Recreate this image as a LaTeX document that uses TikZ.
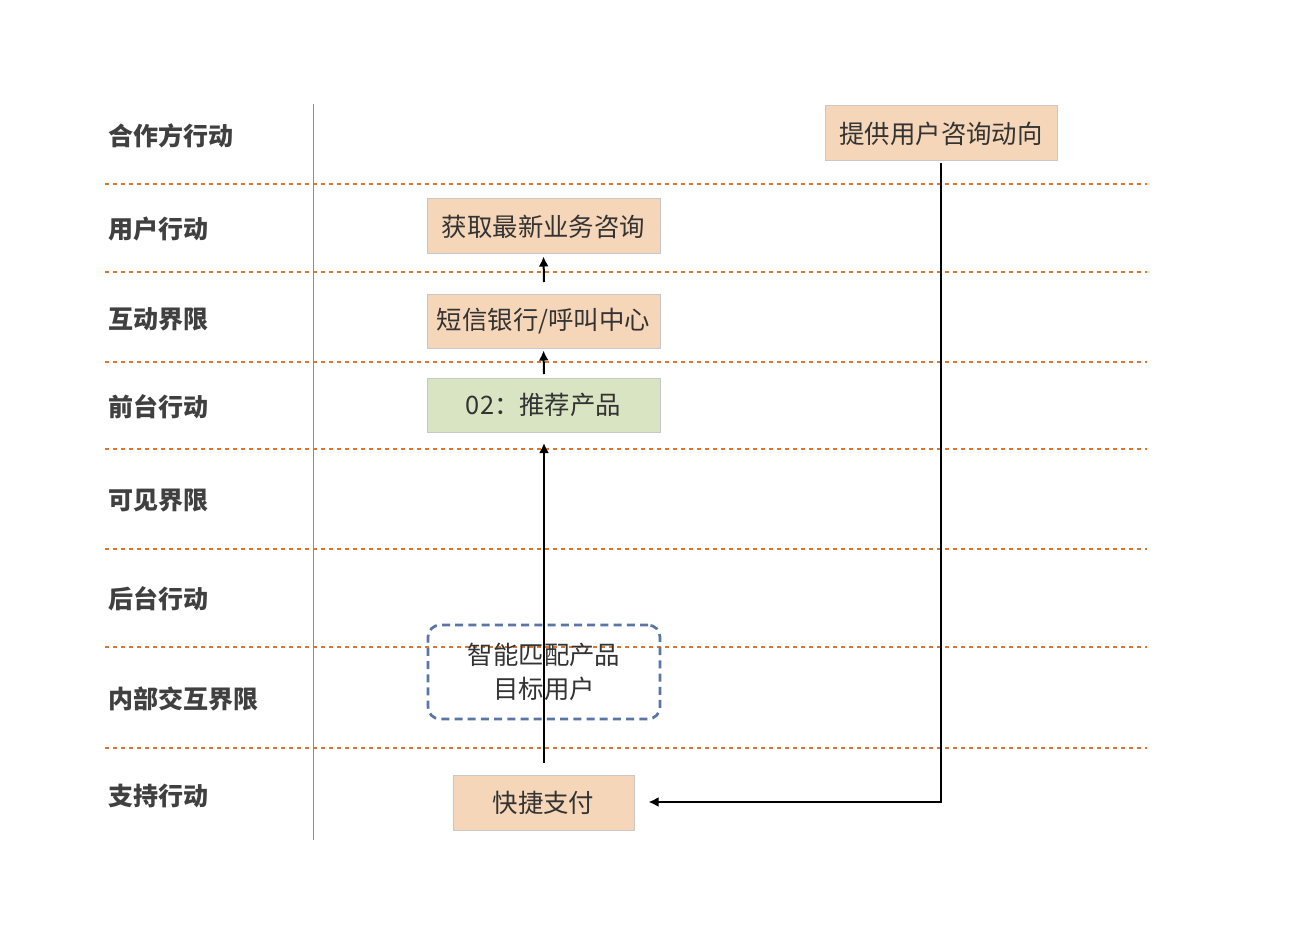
\documentclass[tikz,border=0pt]{standalone}
\usepackage{fontspec}
\newfontfamily\cjk{Noto Sans CJK SC}
\usetikzlibrary{arrows.meta}
\definecolor{laneline}{HTML}{D9772F}
\definecolor{boxfill}{HTML}{F6D6B8}
\definecolor{greenfill}{HTML}{D9E4C2}
\definecolor{boxedge}{HTML}{C8C8C8}
\definecolor{bluedash}{HTML}{5A75A6}
\definecolor{labeltext}{HTML}{404040}
\definecolor{boxtext}{HTML}{333333}
\tikzset{
  lanesep/.style={laneline, line width=0.75pt, dash pattern=on 2pt off 2pt},
  lanelabel/.style={anchor=west, inner sep=0pt, font=\cjk\bfseries\fontsize{12.5}{14}\selectfont, text=labeltext},
  actbox/.style={draw=boxedge, line width=0.5pt, fill=boxfill, inner sep=0pt, font=\cjk\fontsize{12.7}{14}\selectfont, text=boxtext},
  greenbox/.style={actbox, fill=greenfill},
  dashbox/.style={draw=bluedash, line width=1.35pt, dash pattern=on 4pt off 2.6pt, rounded corners=6pt, inner sep=0pt, align=center, font=\cjk\fontsize{12.7}{17}\selectfont, text=boxtext},
  flow/.style={black, line width=1pt, -{Latex[length=5pt,width=5pt]}}
}
\begin{document}
\begin{tikzpicture}[x=0.5pt,y=-0.5pt]
\useasboundingbox (0,0) rectangle (1306,936);
% lane separators
\foreach \yy in {184,272,362,449,549,647,748}
  \draw[lanesep] (105,\yy) -- (1147,\yy);
\draw[laneline, line width=0.5pt] (313,104) -- (313,840);
% lane labels
\node[lanelabel] (l1) at (108,136) {合作方行动};
\node[lanelabel] (l2) at (108,229) {用户行动};
\node[lanelabel] (l3) at (108,319) {互动界限};
\node[lanelabel] (l4) at (108,407) {前台行动};
\node[lanelabel] (l5) at (108,500) {可见界限};
\node[lanelabel] (l6) at (108,599) {后台行动};
\node[lanelabel] (l7) at (108,699) {内部交互界限};
\node[lanelabel] (l8) at (108,796) {支持行动};
% boxes
\node[actbox, minimum width=116.5pt, minimum height=27.5pt] (get) at (543.5,226.5) {获取最新业务咨询};
\node[actbox, minimum width=116.5pt, minimum height=26.5pt] (sms) at (543.5,321.5) {短信银行/呼叫中心};
\node[greenbox, minimum width=116.5pt, minimum height=27pt] (rec) at (543.5,405) {02：推荐产品};
\node[dashbox, minimum width=116pt, minimum height=47pt] (match) at (544,672) {智能匹配产品\\目标用户};
\node[actbox, minimum width=90.5pt, minimum height=27.5pt] (pay) at (543.5,802.5) {快捷支付};
\node[actbox, minimum width=116pt, minimum height=27.5pt] (prov) at (941,133.5) {提供用户咨询动向};
% connectors
\coordinate (a1s) at (544,282);
\coordinate (a2s) at (544,374);
\coordinate (a3s) at (544,763);
\coordinate (a3e) at (544,443);
\coordinate (bend) at (941,802);
\draw[flow] (a1s) -- ([yshift=-1pt]get.south);
\draw[flow] (a2s) -- ([yshift=-1pt]sms.south);
\draw[flow] (a3s) -- (a3e);
\draw[flow] ([yshift=-1pt]prov.south) -- (bend) -- ([xshift=7pt]pay.east |- bend);
\end{tikzpicture}
\end{document}
